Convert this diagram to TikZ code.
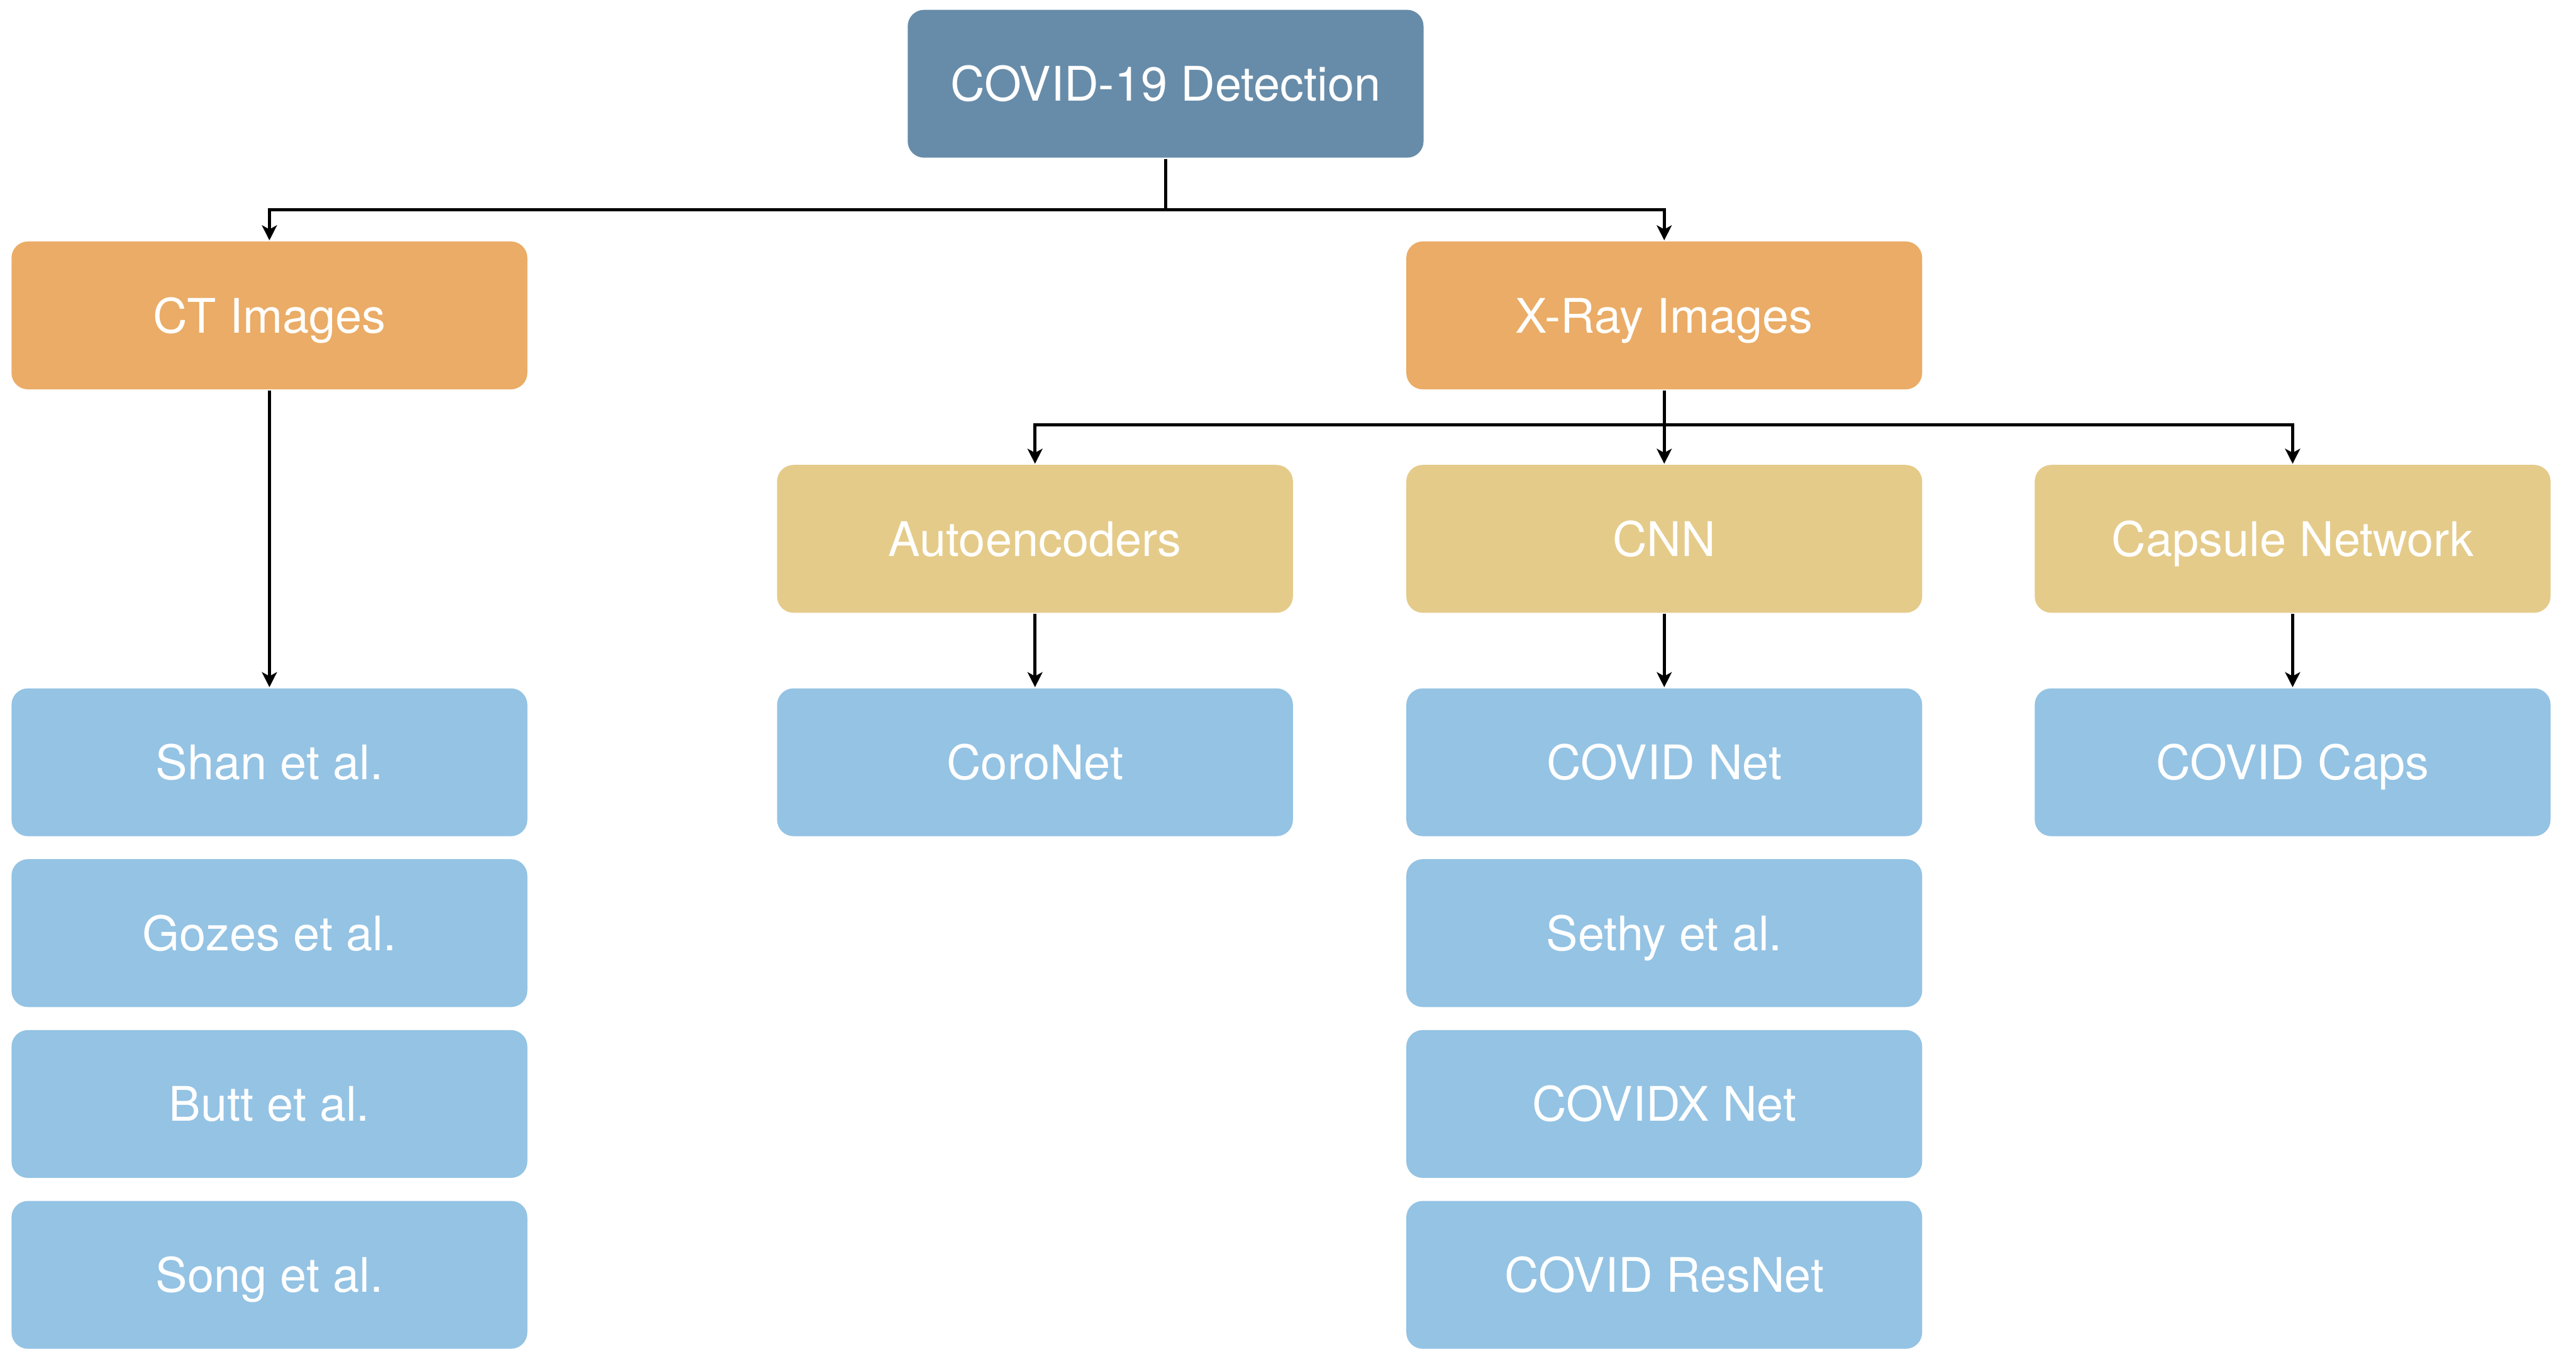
\documentclass[tikz,border=0pt]{standalone}
\usepackage{fontspec}
\setmainfont{TeX Gyre Heros}
\usetikzlibrary{arrows.meta}

\definecolor{rootblue}{HTML}{678CA9}
\definecolor{imgorange}{HTML}{EAAC66}
\definecolor{modeltan}{HTML}{E5CB8A}
\definecolor{workblue}{HTML}{94C3E4}

\begin{document}
\begin{tikzpicture}[box/.style = {rectangle, rounded corners=0.1cm, minimum width=3.14cm, minimum height=0.9cm, text=white, font=\fontsize{8.25}{10}\selectfont, inner sep=0pt, text height=6pt, text depth=0pt},
                    link/.style = {line width=0.5pt, -{Stealth[length=2.6pt, width=2.6pt, inset=0.7pt]}}]
      \useasboundingbox (0,0) rectangle (15.68,-8.21);
      \node [box, fill=rootblue] (root) at (7.095, -0.51) {COVID-19 Detection};
      \node [box, fill=imgorange] (ct) at (1.64, -1.92) {CT Images};
      \node [box, fill=imgorange] (xray) at (10.13, -1.92) {X-Ray Images};
      \node [box, fill=modeltan] (auto) at (6.30, -3.28) {Autoencoders};
      \node [box, fill=modeltan] (cnn) at (10.13, -3.28) {CNN};
      \node [box, fill=modeltan] (caps) at (13.955, -3.28) {Capsule Network};

      \foreach \n/\y/\t in {shan/-4.64/Shan et al., gozes/-5.68/Gozes et al., butt/-6.72/Butt et al., song/-7.76/Song et al.}
               {
                 \node [box, fill=workblue] (\n) at (1.64, \y) {\t};
               }
      \foreach \n/\y/\t in {covidnet/-4.64/COVID Net, sethy/-5.68/Sethy et al., covidx/-6.72/COVIDX Net, resnet/-7.76/COVID ResNet}
               {
                 \node [box, fill=workblue] (\n) at (10.13, \y) {\t};
               }
      \node [box, fill=workblue] (coronet) at (6.30, -4.64) {CoroNet};
      \node [box, fill=workblue] (covidcaps) at (13.955, -4.64) {COVID Caps};

      \draw [line width=0.5pt] (root.south) -- ++(0,-0.31) coordinate (rj);
      \draw [link] (rj) -| (ct.north);
      \draw [link] (rj) -| (xray.north);
      \draw [line width=0.5pt] (xray.south) -- ++(0,-0.21) coordinate (xj);
      \draw [link] (xj) -| (auto.north);
      \draw [link] (xj) -| (caps.north);
      \draw [link] (xray.south) -- (cnn.north);
      \draw [link] (ct) -- (shan);
      \foreach \a/\b in {auto/coronet, cnn/covidnet, caps/covidcaps}
               {
                 \draw [link] (\a) -- (\b);
               }
\end{tikzpicture}
\end{document}
